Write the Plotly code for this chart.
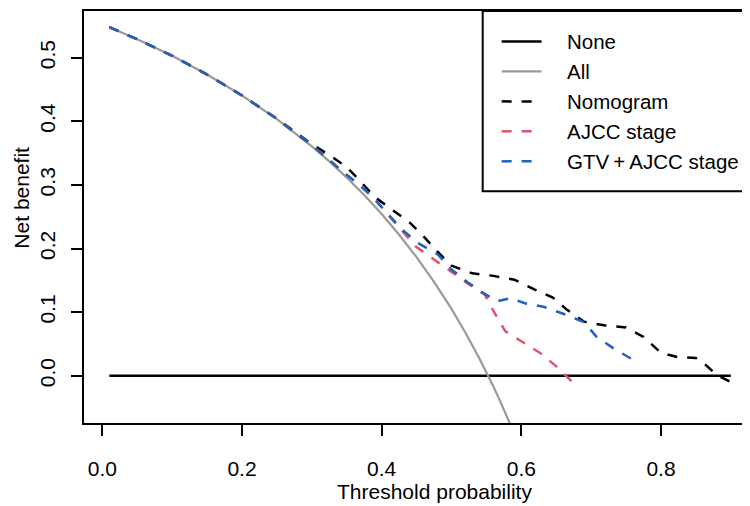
import plotly.graph_objects as go

# ---------------- data ----------------
none_x = [0.01, 0.90]
none_y = [0.0, 0.0]

all_x = [0.01, 0.05, 0.10, 0.15, 0.20, 0.25, 0.30, 0.325, 0.35, 0.375, 0.40, 0.425,
         0.45, 0.475, 0.50, 0.52, 0.54, 0.55, 0.56, 0.57, 0.58, 0.59]
all_y = [0.548, 0.529, 0.503, 0.4735, 0.4406, 0.4033, 0.3607, 0.3370, 0.3115, 0.2840,
         0.2542, 0.2217, 0.1864, 0.1476, 0.1050, 0.0677, 0.0272, 0.0056, -0.0170,
         -0.0407, -0.0655, -0.0915]

nomo_x = [0.01, 0.05, 0.10, 0.15, 0.20, 0.25, 0.28, 0.30, 0.325, 0.35, 0.37, 0.39,
          0.415, 0.44, 0.46, 0.48, 0.50, 0.53, 0.56, 0.59, 0.62, 0.645, 0.665, 0.69,
          0.72, 0.75, 0.775, 0.80, 0.825, 0.85, 0.865, 0.88, 0.90]
nomo_y = [0.548, 0.529, 0.503, 0.4735, 0.4406, 0.4040, 0.380, 0.364, 0.347, 0.328,
          0.305, 0.281, 0.261, 0.241, 0.219, 0.195, 0.173, 0.161, 0.157, 0.151, 0.135,
          0.123, 0.104, 0.085, 0.079, 0.076, 0.061, 0.036, 0.029, 0.028, 0.016, 0.001,
          -0.010]

ajcc_x = [0.01, 0.05, 0.10, 0.15, 0.20, 0.25, 0.272, 0.30, 0.322, 0.344, 0.368, 0.389,
          0.41, 0.43, 0.449, 0.472, 0.496, 0.522, 0.548, 0.561, 0.577, 0.602, 0.628,
          0.651, 0.672, 0.677]
ajcc_y = [0.548, 0.529, 0.503, 0.4735, 0.4406, 0.404, 0.385, 0.363, 0.342, 0.321,
          0.300, 0.279, 0.252, 0.226, 0.203, 0.185, 0.166, 0.146, 0.127, 0.100, 0.070,
          0.053, 0.035, 0.014, -0.009, -0.014]

gtv_x = [0.01, 0.05, 0.10, 0.15, 0.20, 0.25, 0.272, 0.30, 0.322, 0.344, 0.368, 0.389,
         0.41, 0.43, 0.453, 0.48, 0.50, 0.523, 0.547, 0.565, 0.585, 0.605, 0.633, 0.661,
         0.69, 0.708, 0.732, 0.765]
gtv_y = [0.548, 0.529, 0.503, 0.4735, 0.4406, 0.404, 0.385, 0.363, 0.342, 0.321, 0.300,
         0.279, 0.253, 0.229, 0.208, 0.191, 0.167, 0.147, 0.129, 0.117, 0.122, 0.114,
         0.108, 0.097, 0.084, 0.061, 0.043, 0.022]

series_names = ["None", "All", "Nomogram", "AJCC stage", "GTV\u2009+\u2009AJCC stage"]
series_colors = ["#000000", "#9A9A9A", "#000000", "#DF536B", "#1E63C0"]
series_dash = ["solid", "solid", "10px,10px", "10px,10px", "10px,10px"]
series_width = [2.5, 2.2, 2.5, 2.5, 2.5]
series_x = [none_x, all_x, nomo_x, ajcc_x, gtv_x]
series_y = [none_y, all_y, nomo_y, ajcc_y, gtv_y]

x_ticks = [0.0, 0.2, 0.4, 0.6, 0.8]
x_tick_labels = ["0.0", "0.2", "0.4", "0.6", "0.8"]
y_ticks = [0.0, 0.1, 0.2, 0.3, 0.4, 0.5]
y_tick_labels = ["0.0", "0.1", "0.2", "0.3", "0.4", "0.5"]

# ---------------- figure ----------------
# the page body adds an 8px offset; layout below is expressed in screen pixels
OFF = 8
W, H = 750, 506
PLOT_L, PLOT_T, PLOT_B = 84.3, 11, 423.5          # screen pixels
ML = PLOT_L - OFF
MT = PLOT_T - OFF
MB = H - (PLOT_B - OFF)
MR = 0
FONT = "Liberation Sans, Arial, sans-serif"
FS = 21

fig = go.Figure()
for nm, col, dsh, lw, xs, ys in zip(series_names, series_colors, series_dash,
                                     series_width, series_x, series_y):
    fig.add_trace(go.Scatter(x=xs, y=ys, mode="lines", name=nm, showlegend=False,
                             line=dict(color=col, dash=dsh, width=lw)))

pw = W - ML - MR
ph = H - MT - MB


def sx(px):
    """screen pixel x -> paper"""
    return (px - OFF - ML) / pw


def sy(py):
    """screen pixel y -> paper"""
    return (H - MB - (py - OFF)) / ph


shapes = []
annotations = []

# legend box
shapes.append(dict(type="rect", xref="paper", yref="paper",
                   x0=sx(484), x1=sx(747), y0=sy(191.5), y1=sy(11),
                   line=dict(color="black", width=2), fillcolor="white", layer="above"))
for i, (nm, col, dsh, lw) in enumerate(zip(series_names, series_colors, series_dash, series_width)):
    ry = 41.5 + 30 * i
    shapes.append(dict(type="line", xref="paper", yref="paper",
                       x0=sx(503), x1=sx(543), y0=sy(ry), y1=sy(ry),
                       line=dict(color=col, dash=dsh, width=lw), layer="above"))
    annotations.append(dict(xref="paper", yref="paper", x=sx(567), y=sy(ry),
                            text=nm, showarrow=False, xanchor="left", yanchor="middle",
                            font=dict(family=FONT, size=FS - 0.5, color="black")))

# axis titles
annotations.append(dict(xref="paper", yref="paper", x=sx(436), y=sy(492),
                        text="Threshold probability", showarrow=False,
                        xanchor="center", yanchor="middle",
                        font=dict(family=FONT, size=FS, color="black")))
annotations.append(dict(xref="paper", yref="paper", x=sx(22), y=sy(198),
                        text="Net benefit", showarrow=False, textangle=-90,
                        xanchor="center", yanchor="middle",
                        font=dict(family=FONT, size=FS, color="black")))

# x range: left edge of plot at screen 84.3, right edge of plot at screen 758
x_left = -0.0263
x_right = 0.9361

fig.update_layout(
    width=W, height=H,
    margin=dict(l=ML, r=MR, t=MT, b=MB, pad=0),
    paper_bgcolor="white", plot_bgcolor="white",
    font=dict(family=FONT, size=FS, color="black"),
    shapes=shapes, annotations=annotations,
    xaxis=dict(range=[x_left, x_right], tickvals=x_ticks, ticktext=x_tick_labels,
               ticks="outside", ticklen=11, tickwidth=2, tickcolor="black",
               showgrid=False, zeroline=False, showline=True, linewidth=2,
               linecolor="black", mirror=True, ticklabelstandoff=15,
               tickfont=dict(family=FONT, size=FS, color="black")),
    yaxis=dict(range=[-0.0743, 0.5734], tickvals=y_ticks, ticktext=y_tick_labels,
               ticks="outside", ticklen=11, tickwidth=2, tickcolor="black",
               showgrid=False, zeroline=False, showline=True, linewidth=2,
               linecolor="black", mirror=True, tickangle=-90, ticklabelstandoff=8,
               tickfont=dict(family=FONT, size=FS, color="black")),
)

fig.write_html("out.html")
